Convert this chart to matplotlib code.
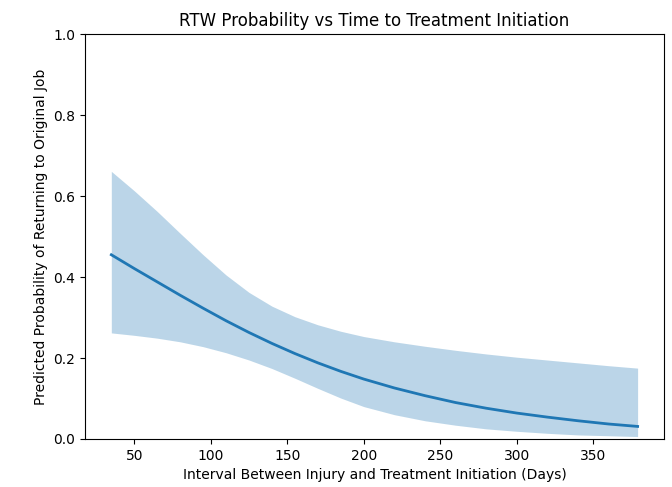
import matplotlib
matplotlib.use("Agg")
import matplotlib.pyplot as plt

days = [35, 50, 65, 80, 95, 110, 125, 140, 155, 170, 185, 200, 220, 240, 260,
        280, 300, 320, 340, 360, 379]
prob = [0.455, 0.421, 0.388, 0.355, 0.323, 0.292, 0.263, 0.236, 0.211, 0.188,
        0.167, 0.148, 0.126, 0.107, 0.090, 0.076, 0.064, 0.054, 0.045, 0.037, 0.031]
upper = [0.661, 0.613, 0.562, 0.508, 0.455, 0.405, 0.362, 0.328, 0.302, 0.282,
         0.266, 0.253, 0.240, 0.229, 0.219, 0.210, 0.202, 0.195, 0.188, 0.181, 0.175]
lower = [0.262, 0.256, 0.249, 0.240, 0.228, 0.213, 0.195, 0.174, 0.150, 0.125,
         0.101, 0.080, 0.060, 0.045, 0.034, 0.025, 0.019, 0.014, 0.010, 0.008, 0.006]

fig, ax = plt.subplots(figsize=(6.72, 4.87), dpi=100)
fig.subplots_adjust(left=0.1265, right=0.988, top=0.930, bottom=0.0986)

ax.plot(days, prob, color="#1f77b4", linewidth=2)
ax.fill_between(days, lower, upper, color="#1f77b4", alpha=0.3, linewidth=0)
ax.set_ylim(0, 1)
ax.set_title("RTW Probability vs Time to Treatment Initiation")
ax.set_xlabel("Interval Between Injury and Treatment Initiation (Days)")
ax.set_ylabel("Predicted Probability of Returning to Original Job")

plt.savefig("out.png", dpi=100)
